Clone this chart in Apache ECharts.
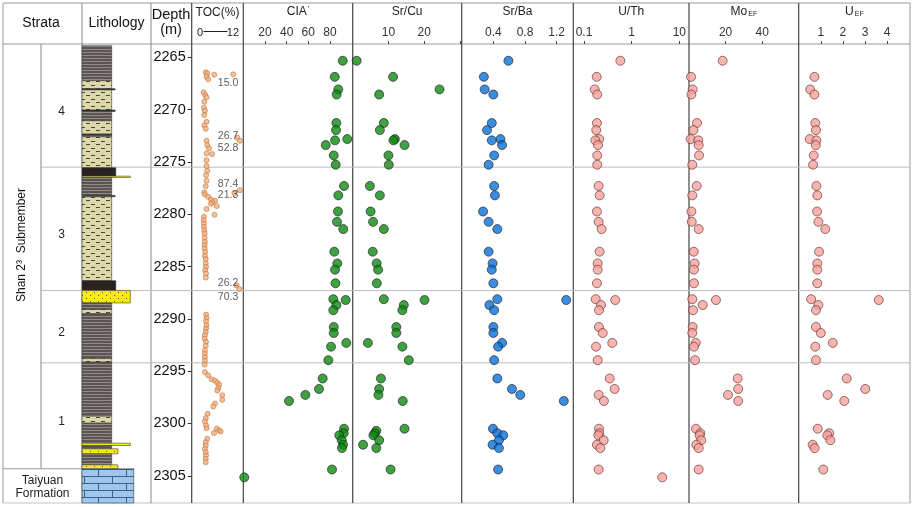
<!DOCTYPE html>
<html>
<head>
<meta charset="utf-8">
<title>Shan 2-3 submember geochemistry</title>
<script src="https://cdn.jsdelivr.net/npm/echarts@6.0.0/dist/echarts.min.js"></script>
<style>
  html, body { margin: 0; padding: 0; background: #fff; }
  #chart { width: 913px; height: 507px; }
</style>
</head>
<body>
<div id="chart"></div>
<script>
// ---- samples (depth in m) ----
const sampleDepth = [2265.33, 2266.87, 2268.07, 2268.56, 2271.28, 2271.96, 2272.82, 2272.94, 2273.39, 2274.38,
  2275.27, 2277.3, 2278.2, 2279.74, 2280.73, 2281.42, 2283.58, 2284.7, 2285.3, 2286.6,
  2288.12, 2288.2, 2288.68, 2289.17, 2290.78, 2291.35, 2292.3, 2292.66, 2293.95,
  2295.7, 2296.7, 2297.27, 2297.85,
  2300.5, 2300.7, 2300.93, 2301.13, 2301.6, 2302.03, 2302.35, 2304.4, 2305.15];
const cia = [91.8, 84.4, 87.7, 86.2, 85.9, 85.6, 96.0, 84.7, 76.1, 83.5,
  85.3, 93.0, 87.7, 87.4, 86.5, 92.3, 84.0, 86.8, 84.7, 85.1,
  83.1, 94.5, 85.9, 83.1, 83.5, 83.5, 95.1, 81.0, 78.5,
  73.3, 69.9, 57.3, 42.2,
  93.0, null, 92.7, 88.6, 90.9, 92.1, 91.1, 81.9, 0.9];
const srCu = [1.1, 11.3, 24.3, 7.4, 8.7, 7.6, 11.8, 11.4, 14.5, 10.0,
  10.1, 4.8, 7.6, 5.0, 5.7, 8.7, 5.6, 6.7, 7.1, 6.75,
  8.7, 20.1, 14.3, 13.9, 12.2, 12.2, 4.25, 13.9, 15.7,
  7.9, 7.4, 7.2, 14.0,
  14.5, 6.6, 6.2, 5.8, 7.4, 2.9, 6.6, 10.6, null];
const srBa = [0.59, 0.28, 0.29, 0.40, 0.38, 0.32, 0.49, 0.38, 0.51, 0.41,
  0.34, 0.41, 0.42, 0.27, 0.34, 0.45, 0.34, 0.39, 0.38, 0.40,
  0.45, 1.32, 0.35, 0.41, 0.40, 0.40, 0.51, 0.46, 0.41,
  0.45, 0.635, 0.74, 1.29,
  0.395, null, 0.45, 0.525, 0.47, 0.39, 0.47, 0.46, null];
const uTh = [0.58, 0.185, 0.168, 0.19, 0.187, 0.181, 0.209, 0.173, 0.197, 0.19,
  0.19, 0.203, 0.213, 0.187, 0.203, 0.235, 0.213, 0.194, 0.194, 0.187,
  0.176, 0.453, 0.227, 0.206, 0.206, 0.247, 0.392, 0.179, 0.194,
  0.346, 0.44, 0.203, 0.262,
  0.206, null, 0.21, 0.2, 0.259, 0.187, 0.22, 0.203, 4.38];
const moEF = [18.4, 1.1, 2.0, 1.3, 4.4, 2.4, 0.9, 5.1, 5.3, 5.5,
  1.8, 4.2, 1.8, 1.3, 1.5, 5.3, 2.6, 3.1, 2.7, 2.7,
  1.8, 14.75, 7.5, 2.2, 2.0, 1.8, 3.7, 2.7, 3.3,
  26.6, 26.9, 21.3, 26.9,
  3.8, null, 6.2, 5.8, 6.7, 4.0, 5.3, 5.3, null];
const uEF = [null, 0.71, 0.52, 0.71, 0.75, 0.78, 0.50, 0.80, 0.77, 0.68,
  0.65, 0.80, 0.84, 0.83, 0.89, 1.20, 0.92, 0.84, 0.84, 0.84,
  0.56, 3.62, 0.89, 0.78, 0.78, 1.0, 1.54, 0.75, 0.78,
  2.17, 3.01, 1.31, 2.06,
  0.86, null, 1.38, 1.29, 1.43, 0.63, 0.72, 1.11, null];

// ---- TOC log (denser sampling) ----
const tocDepth = [2266.44, 2266.53, 2266.66, 2266.86, 2267.1, 2268.35, 2268.6, 2268.83, 2269.25, 2269.82,
  2270.1, 2270.52, 2271.16, 2271.5, 2271.83, 2272.98, 2273.39, 2273.7, 2274.19, 2274.25,
  2274.83, 2275.4, 2275.85, 2276.26, 2276.8, 2277.32, 2277.92, 2278.1, 2278.34, 2278.6,
  2278.7, 2278.85, 2279.0, 2279.22, 2279.5, 2280.06, 2280.25, 2280.57, 2280.89, 2281.21,
  2281.53, 2281.84, 2282.26, 2282.65, 2282.96, 2283.28, 2283.6, 2283.99, 2284.3, 2284.71,
  2285.04, 2285.35, 2285.67, 2286.05,
  2289.6, 2289.92, 2290.23, 2290.62, 2290.93, 2291.26, 2291.57, 2291.89, 2292.2, 2292.58,
  2293.0, 2293.32, 2293.67, 2294.0, 2294.37, 2295.09, 2295.4, 2295.78, 2295.91, 2296.1,
  2296.3, 2296.62, 2296.84, 2297.3, 2297.73, 2298.1, 2298.37, 2299.07, 2299.49, 2299.8,
  2300.19, 2300.45, 2300.5, 2300.66, 2300.76, 2300.92, 2301.46, 2301.8, 2302.1, 2302.42,
  2302.74, 2303.06, 2303.37, 2303.7];
const toc = [2.1, 2.65, 5.2, 2.4, 3.0, 1.35, 1.9, 2.4, 1.55, 1.45,
  1.8, 1.55, 2.4, 1.55, 2.1, 2.4, 2.65, 3.3, 2.4, 4.4,
  2.4, 2.4, 2.65, 2.2, 2.4, 2.1, 1.55, 1.8, 3.0, 4.0,
  5.5, 4.5, 4.0, 6.1, 2.4, 5.3, 1.45, 1.35, 1.45, 1.45,
  1.55, 1.7, 1.7, 1.8, 1.7, 1.7, 1.9, 1.8, 2.1, 2.1,
  2.2, 1.9, 2.2, 2.1,
  2.2, 2.4, 2.2, 2.4, 2.2, 2.1, 1.8, 1.7, 2.2, 2.1,
  1.8, 1.8, 1.8, 1.8, 1.7, 1.8, 3.0, 4.25, 5.45, 6.3,
  7.0, 6.65, 6.3, 8.1, 8.1, 5.45, 4.85, 2.8, 2.1, 1.8,
  2.2, 2.4, 6.1, 7.0, 7.5, 5.1, 2.65, 2.1, 2.1, 1.8,
  2.1, 2.2, 2.1, 2.1];

// off-scale TOC samples: drawn at the right edge of the column, labelled with the measured value
const tocOutDepth = [2266.63, 2272.69, 2272.98, 2277.7, 2277.96, 2286.8, 2287.15];
const tocOutPos = [12.1, 13.6, 14.5, 14.5, 12.5, 13.3, 14.3];
const tocOutText = ['15.0', '26.7', '52.8', '87.4', '21.3', '26.2', '70.3'];
const tocOutTextDepth = [2267.45, 2272.5, 2273.7, 2277.12, 2278.15, 2286.6, 2287.94];

// ---- stratigraphy ----
const unitName = ['4', '3', '2', '1'];
const unitTop = [2263.73, 2275.5, 2287.3, 2294.2];
const unitBase = [2275.5, 2287.3, 2294.2, 2304.33];
const formationTop = 2304.33; // Taiyuan Formation below

// ---- lithology column: top, base, rock type, relative bed width (0-10) ----
const litTop = [2263.9, 2267.24, 2268.0, 2268.12, 2270.05, 2270.17, 2271.07, 2272.34, 2272.45, 2272.6,
  2275.56, 2276.36, 2276.5, 2278.2, 2278.33, 2286.35, 2287.3, 2288.48, 2289.11, 2289.5,
  2293.8, 2294.13, 2299.3, 2299.97, 2301.88, 2302.1, 2302.42, 2302.9, 2303.95, 2304.33];
const litBase = [2267.24, 2268.0, 2268.12, 2270.05, 2270.17, 2271.07, 2272.34, 2272.45, 2272.6, 2275.56,
  2276.36, 2276.5, 2278.2, 2278.33, 2286.35, 2287.3, 2288.48, 2289.11, 2289.5, 2293.8,
  2294.13, 2299.3, 2299.97, 2301.88, 2302.1, 2302.42, 2302.9, 2303.95, 2304.33, 2307.6];
const litType = ['mud', 'silt', 'coal', 'silt', 'coal', 'mud', 'silt', 'coal', 'mud', 'silt',
  'coal', 'sand', 'mud', 'coal', 'silt', 'coal', 'sand', 'mud', 'silt', 'mud',
  'silt', 'mud', 'silt', 'mud', 'sand', 'mud', 'sand', 'mud', 'sand', 'lime'];
const litWidth = [4.3, 4.3, 4.8, 4.3, 4.8, 4.3, 4.3, 4.3, 4.3, 4.3,
  4.9, 7.0, 4.3, 4.8, 4.3, 4.9, 7.0, 4.3, 4.3, 4.3,
  4.3, 4.3, 4.3, 4.3, 7.0, 4.3, 5.2, 4.3, 5.2, 7.5];

const depthTicks = [2265, 2270, 2275, 2280, 2285, 2290, 2295, 2300, 2305];

// ---- layout ----
const FONT = '"Liberation Sans", Arial, sans-serif';
const DEPTH_MIN = 2263.73, DEPTH_MAX = 2307.6;
const TOP = 44, HEIGHT = 459;
const X = { left: 3, sub: 41, lith: 82, depth: 151, toc: 191.7, cia: 243.3, srCu: 352.7,
  srBa: 461.7, uTh: 573.3, mo: 689, u: 798.7, right: 910 };

const GREEN = '#0f8a12', BLUE = '#0a70d8', PINK = '#f6a19b';

function makePattern(w, h, draw) {
  const c = document.createElement('canvas');
  c.width = w; c.height = h;
  draw(c.getContext('2d'));
  return { image: c, repeat: 'repeat' };
}
const litFill = {
  mud: makePattern(6, 3, g => {
    g.fillStyle = '#5c5453'; g.fillRect(0, 0, 6, 3);
    g.fillStyle = '#908a89'; g.fillRect(0, 1, 6, 1);
  }),
  silt: makePattern(10, 7, g => {
    g.fillStyle = '#ddd8a9'; g.fillRect(0, 0, 10, 7);
    g.fillStyle = '#4a4634';
    g.fillRect(1, 1, 4, 1); g.fillRect(6, 4, 4, 1);
  }),
  coal: '#2b2220',
  sand: makePattern(8, 6, g => {
    g.fillStyle = '#f6ec12'; g.fillRect(0, 0, 8, 6);
    g.fillStyle = '#555';
    g.fillRect(2, 1, 1, 1); g.fillRect(6, 4, 1, 1);
  }),
  lime: makePattern(28, 14, g => {
    g.fillStyle = '#9ec7ee'; g.fillRect(0, 0, 28, 14);
    g.fillStyle = '#3f5f84';
    g.fillRect(0, 0, 28, 1); g.fillRect(0, 7, 28, 1);
    g.fillRect(0, 0, 1, 7); g.fillRect(14, 7, 1, 7);
  })
};

const grids = [], xAxes = [], yAxes = [], series = [];
function addGrid(l, r, xa, ya) {
  const idx = grids.length;
  grids.push({ left: l, top: TOP, width: r - l, height: HEIGHT });
  xAxes.push(Object.assign({ gridIndex: idx, type: 'value', show: false, min: 0, max: 1 }, xa));
  yAxes.push(Object.assign({ gridIndex: idx, type: 'value', show: false,
    min: DEPTH_MIN, max: DEPTH_MAX, inverse: true }, ya));
  return idx;
}

function panelAxis(name, min, max, ticks, extra) {
  return Object.assign({
    show: true, position: 'top', min, max, name, nameLocation: 'middle', nameGap: 26,
    nameTextStyle: {
      fontFamily: FONT, fontSize: 12, color: '#222',
      rich: {
        m: { fontFamily: FONT, fontSize: 12, color: '#222' },
        s: { fontFamily: FONT, fontSize: 7, color: '#222', verticalAlign: 'bottom', padding: [6, 0, 0, 1] },
        p: { fontFamily: FONT, fontSize: 8, color: '#222', verticalAlign: 'top', padding: [0, 0, 5, 1] }
      }
    },
    axisLine: { show: false, onZero: false },
    axisTick: { show: true, customValues: ticks, length: 3, lineStyle: { color: '#444' } },
    axisLabel: { show: true, customValues: ticks, margin: 5, fontFamily: FONT, fontSize: 12, color: '#333' },
    splitLine: { show: false }
  }, extra);
}

// background grid: unit boundaries across the log
const gBg = addGrid(X.sub, X.right);
series.push({
  type: 'custom', xAxisIndex: gBg, yAxisIndex: gBg, z: 1, silent: true,
  data: unitBase.slice(0, 3).map(d => [d]),
  encode: { y: 0 },
  renderItem(params, api) {
    const a = api.coord([0, api.value(0)]), b = api.coord([1, api.value(0)]);
    return { type: 'line', shape: { x1: a[0], y1: a[1], x2: b[0], y2: b[1] },
      style: { stroke: '#bdbdbd', lineWidth: 1 } };
  }
});

// strata units
const gUnit = addGrid(X.sub, X.lith);
series.push({
  type: 'custom', xAxisIndex: gUnit, yAxisIndex: gUnit, z: 2, silent: true,
  data: unitTop.map((t, i) => [t, unitBase[i]]),
  encode: { y: [0, 1] },
  renderItem(params, api) {
    const a = api.coord([0, api.value(0)]), b = api.coord([1, api.value(1)]);
    return { type: 'group', children: [
      { type: 'line', shape: { x1: a[0], y1: a[1], x2: a[0], y2: b[1] }, style: { stroke: '#888', lineWidth: 1 } },
      { type: 'text', x: (a[0] + b[0]) / 2, y: (a[1] + b[1]) / 2 + 6,
        style: { text: unitName[params.dataIndex], fontFamily: FONT, fontSize: 12, fill: '#222',
          align: 'center', verticalAlign: 'middle' } }
    ] };
  }
});

// Taiyuan Formation cell
const gForm = addGrid(X.left, X.lith);
series.push({
  type: 'custom', xAxisIndex: gForm, yAxisIndex: gForm, z: 2, silent: true,
  data: [[formationTop, DEPTH_MAX]],
  encode: { y: [0, 1] },
  renderItem(params, api) {
    const a = api.coord([0, api.value(0)]), b = api.coord([1, api.value(1)]);
    return { type: 'group', children: [
      { type: 'line', shape: { x1: a[0], y1: a[1], x2: b[0], y2: a[1] }, style: { stroke: '#999', lineWidth: 1 } },
      { type: 'text', x: (a[0] + b[0]) / 2, y: (a[1] + b[1]) / 2 + 1,
        style: { text: 'Taiyuan\nFormation', fontFamily: FONT, fontSize: 12, fill: '#222', lineHeight: 13,
          align: 'center', verticalAlign: 'middle' } }
    ] };
  }
});

// lithology column
const gLith = addGrid(X.lith, X.depth, { min: 0, max: 10 });
series.push({
  type: 'custom', xAxisIndex: gLith, yAxisIndex: gLith, z: 3, silent: true,
  data: litTop.map((t, i) => [t, litBase[i], litWidth[i]]),
  encode: { x: 2, y: [0, 1] },
  renderItem(params, api) {
    const a = api.coord([0, api.value(0)]), b = api.coord([api.value(2), api.value(1)]);
    return { type: 'rect', shape: { x: a[0], y: a[1], width: b[0] - a[0], height: b[1] - a[1] },
      style: { fill: litFill[litType[params.dataIndex]], stroke: '#3a3a3a', lineWidth: 0.6 } };
  }
});

// TOC column, carries the depth axis
const gToc = addGrid(X.toc, X.cia,
  panelAxis('TOC(%)', -3, 15.75, [0, 12], { axisTick: { show: false }, nameGap: 25,
    axisLabel: { customValues: [0, 12], margin: 6, fontFamily: FONT, fontSize: 11, color: '#222' } }),
  { show: true, position: 'left',
    axisLine: { show: false, onZero: false },
    axisTick: { show: true, customValues: depthTicks, length: 4, lineStyle: { color: '#333' } },
    axisLabel: { show: true, customValues: depthTicks, margin: 6, formatter: v => String(v),
      fontFamily: FONT, fontSize: 14.5, color: '#111' },
    splitLine: { show: false } });
const tocStyle = { color: '#f3b281', borderColor: '#c4753c', borderWidth: 0.8 };
series.push({
  type: 'scatter', xAxisIndex: gToc, yAxisIndex: gToc, z: 4, symbolSize: 5,
  itemStyle: tocStyle,
  data: toc.map((v, i) => [v, tocDepth[i]])
});
series.push({
  type: 'scatter', xAxisIndex: gToc, yAxisIndex: gToc, z: 4, symbolSize: 5,
  itemStyle: tocStyle,
  data: tocOutPos.map((v, i) => [v, tocOutDepth[i]])
});
series.push({
  type: 'scatter', xAxisIndex: gToc, yAxisIndex: gToc, z: 5, symbolSize: 0, silent: true,
  label: { show: true, position: 'inside', formatter: p => tocOutText[p.dataIndex],
    fontFamily: FONT, fontSize: 10.5, color: '#333' },
  data: tocOutTextDepth.map(d => [10.2, d])
});

// geochemistry panels
const panels = [
  { l: X.cia, r: X.srCu, name: "{m|CIA}{p|'}", min: 0, max: 101, ticks: [20, 40, 60, 80], vals: cia, color: GREEN },
  { l: X.srCu, r: X.srBa, name: 'Sr/Cu', min: 0, max: 30.5, ticks: [10, 20, 30], labels: [10, 20], vals: srCu, color: GREEN },
  { l: X.srBa, r: X.uTh, name: 'Sr/Ba', min: 0, max: 1.41, ticks: [0.4, 0.8, 1.2], vals: srBa, color: BLUE },
  { l: X.uTh, r: X.mo, name: 'U/Th', min: 0.0597, max: 15.97, ticks: [0.1, 1, 10], vals: uTh, color: PINK, log: true },
  { l: X.mo, r: X.u, name: '{m|Mo}{s|EF}', min: 0, max: 60, ticks: [20, 40], vals: moEF, color: PINK },
  { l: X.u, r: X.right, name: '{m|U}{s|EF}', min: 0, max: 5.03, ticks: [1, 2, 3, 4], vals: uEF, color: PINK }
];
panels.forEach(p => {
  const extra = p.log ? { type: 'log', logBase: 10 } : { type: 'value' };
  if (p.labels) extra.axisLabel = { show: true, customValues: p.labels, margin: 5, fontFamily: FONT, fontSize: 12, color: '#333' };
  const gi = addGrid(p.l, p.r, panelAxis(p.name, p.min, p.max, p.ticks, extra));
  const dark = p.color === PINK ? '#5a2b2b' : '#1a1a1a';
  series.push({
    type: 'scatter', xAxisIndex: gi, yAxisIndex: gi, z: 4, symbolSize: 9,
    itemStyle: { color: p.color, borderColor: dark, borderWidth: 0.8 },
    data: sampleDepth.map((d, i) => [p.vals[i], d]).filter(q => q[0] != null)
  });
});

// ---- table frame and header ----
const frame = [];
const ln = (x1, y1, x2, y2, stroke, w) => frame.push({ type: 'line', silent: true,
  shape: { x1, y1, x2, y2 }, style: { stroke, lineWidth: w } });
const txt = (x, y, text, size, extra) => frame.push(Object.assign({ type: 'text', x, y, silent: true,
  style: { text, fontFamily: FONT, fontSize: size, fill: '#111', align: 'center', verticalAlign: 'middle' } }, extra));

ln(X.left, 3, X.right, 3, '#999', 1);
ln(X.left, 503, X.right, 503, '#c4c4c4', 1);
ln(X.left, 3, X.left, 503, '#999', 1);
ln(X.right, 3, X.right, 503, '#999', 1);
ln(X.left, TOP, X.right, TOP, '#999', 1);
[X.lith, X.depth].forEach(x => ln(x, 3, x, 503, '#888', 1));
[X.toc, X.cia, X.srCu, X.srBa, X.uTh, X.mo, X.u].forEach(x => ln(x, 3, x, 503, '#444', 1.2));
ln(203.5, 31.5, 227.5, 31.5, '#222', 1);

txt(41, 23, 'Strata', 14);
txt(116.5, 23, 'Lithology', 14);
txt(171, 15, 'Depth', 14.5);
txt(171, 30, '(m)', 14.5);
txt(22, 245, 'Shan 2\u00b3  Submember', 12, { rotation: Math.PI / 2 });

const chart = echarts.init(document.getElementById('chart'), null, { renderer: 'canvas' });
chart.setOption({
  animation: false,
  backgroundColor: '#fff',
  grid: grids,
  xAxis: xAxes,
  yAxis: yAxes,
  series,
  graphic: { elements: frame }
});
</script>
</body>
</html>
